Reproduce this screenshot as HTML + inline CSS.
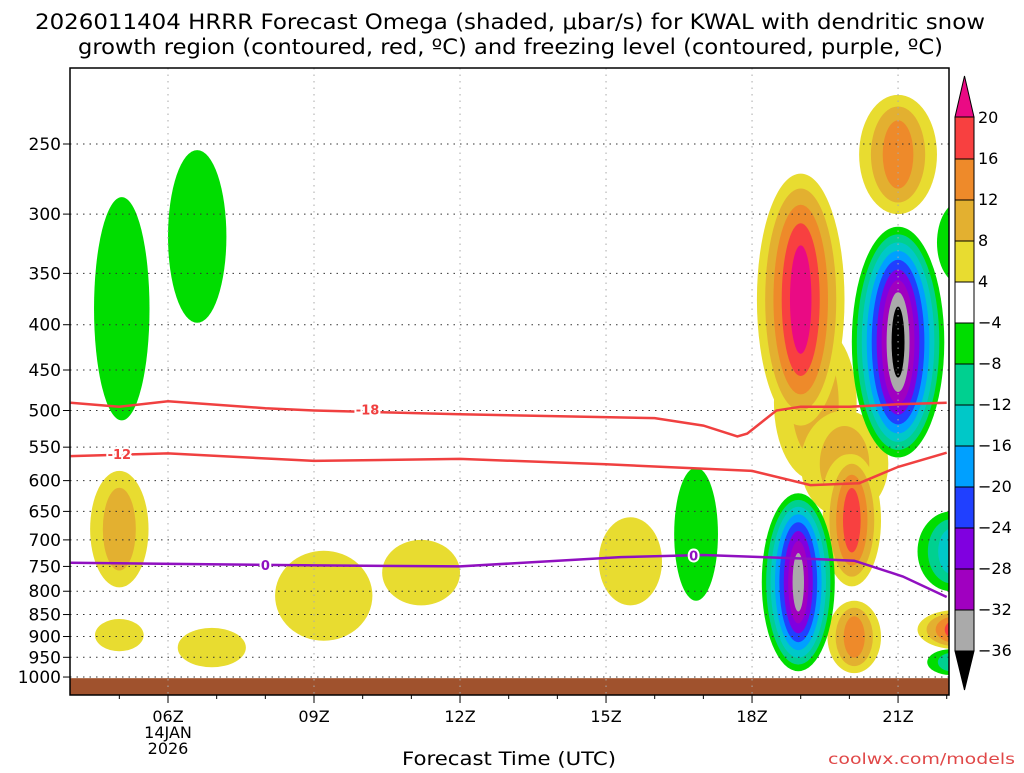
<!DOCTYPE html>
<html><head><meta charset="utf-8"><style>
body{margin:0;background:#fff;width:1024px;height:768px;overflow:hidden;font-family:"Liberation Sans",sans-serif}
svg text{font-family:"DejaVu Sans","Liberation Sans",sans-serif}
</style></head><body>
<svg id="c" width="1024" height="768">
<defs><clipPath id="pc"><rect x="70" y="68" width="879" height="627"/></clipPath></defs>
<text x="35" y="29" font-size="21" textLength="950" lengthAdjust="spacingAndGlyphs">2026011404 HRRR Forecast Omega (shaded, μbar/s) for KWAL with dendritic snow</text>
<text x="78" y="54" font-size="21" textLength="865" lengthAdjust="spacingAndGlyphs">growth region (contoured, red, ºC) and freezing level (contoured, purple, ºC)</text>
<g id="plot" clip-path="url(#pc)"></g>
<g id="axes"></g>
<text x="402" y="765" font-size="19" textLength="214" lengthAdjust="spacingAndGlyphs">Forecast Time (UTC)</text>
<text x="828" y="764" font-size="15" fill="#e04848" textLength="187" lengthAdjust="spacingAndGlyphs">coolwx.com/models</text>
</svg>
<script>
const pressureTicks=[250,300,350,400,450,500,550,600,650,700,750,800,850,900,950,1000];
const timeTicks=[6,9,12,15,18,21];
const timeLabels=["06Z","09Z","12Z","15Z","18Z","21Z"];
const levelValues=[20,16,12,8,4,-4,-8,-12,-16,-20,-24,-28,-32,-36];
const posColors=["#e8dc30","#e3b030","#ee8a2a","#f84040","#ea0a84"];
const negColors=["#00dd00","#00d090","#00c8c8","#00a0ff","#2040ff","#8000e0","#a000c0","#aaaaaa","#000000"];
// blobs: [centerHour, topPressure, bottomPressure, halfWidthHours, levels(+pos/-neg)]
const blobHours=[5.05,6.6,5.0,5.0,6.9,9.2,11.2,15.5,16.85,19.3,19.9,20.0,19.0,20.05,20.1,21.0,22.3,21.0,18.95,22.1,22.2,22.1];
const blobTop=[287,254,585,860,880,720,700,660,580,400,500,560,270,560,820,220,290,310,620,650,840,930];
const blobBottom=[513,398,792,935,975,910,830,830,820,600,660,700,520,790,990,300,360,565,985,800,930,995];
const blobHalfWidth=[0.57,0.6,0.6,0.5,0.7,1.0,0.8,0.65,0.45,0.85,0.9,0.55,0.9,0.6,0.55,0.8,0.5,0.95,0.75,0.7,0.8,0.5];
const blobLevels=[-1,-1,2,1,1,1,1,1,-1,2,2,2,5,4,3,3,-1,-9,-8,-3,4,-2];
const lineHours=[4,5,6,8,9,12,16,17,17.7,17.9,18.5,19,20,21,22];
const lineM18=[490,495,488,497,500,505,510,520,535,531,500,495,495,492,490];
const lineM12Hours=[4,6,9,12,15,18,19.2,20.2,21,22];
const lineM12=[563,559,570,567,575,585,607,604,579,558];
const line0Hours=[4,9,12,15.3,17,19.1,20.1,21.1,22];
const line0=[743,748,750,732,728,735,739,770,812];
const NS="http://www.w3.org/2000/svg";
const X=h=>168+(h-6)*48.67;
const Y=p=>144+384.5*Math.log(p/250);
function mk(tag,attrs,parent){const e=document.createElementNS(NS,tag);for(const k in attrs)e.setAttribute(k,attrs[k]);parent.appendChild(e);return e;}
const plot=document.getElementById('plot'),axes=document.getElementById('axes'),svg=document.getElementById('c');
blobHours.forEach((h,i)=>{
  const n=Math.abs(blobLevels[i]),cols=blobLevels[i]>0?posColors:negColors;
  const g=mk('g',{},plot);
  
  
  const cx=X(h),yt=Y(blobTop[i]),yb=Y(blobBottom[i]),cy=(yt+yb)/2,ry=(yb-yt)/2,rx=blobHalfWidth[i]*48.67;
  for(let k=0;k<n;k++){const f=1-k/(n+0.3);
    const e=mk('ellipse',{cx:cx,cy:cy,rx:rx*f,ry:ry*Math.pow(f,0.6),fill:cols[k]},g);
    
    }
});
const gr=mk('rect',{x:70,y:Y(1003),width:879,height:30,fill:'#a0522d'},plot);


pressureTicks.forEach(p=>{const l=mk('line',{x1:70,x2:949,y1:Y(p),y2:Y(p),stroke:'#333','stroke-dasharray':'1.5 5'},plot);
  
  
  const t=mk('text',{x:61,y:Y(p)+6,'font-size':17,'text-anchor':'end'},axes);t.textContent=p;
  
  
  mk('line',{x1:63,x2:70,y1:Y(p),y2:Y(p),stroke:'#000'},axes);});
for(let h=5;h<=22;h++){mk('line',{x1:X(h),x2:X(h),y1:695,y2:h%3==0?703:699,stroke:'#000'},axes);}
timeTicks.forEach((h,i)=>{const l=mk('line',{x1:X(h),x2:X(h),y1:68,y2:695,stroke:'#aaa','stroke-dasharray':'1.5 5'},plot);
  
  
  const t=mk('text',{x:X(h),y:722,'font-size':16,'text-anchor':'middle'},axes);t.textContent=timeLabels[i];
  
  });
[["14JAN",738],["2026",754]].forEach(a=>{const t=mk('text',{x:X(6),y:a[1],'font-size':16,'text-anchor':'middle'},axes);t.textContent=a[0];
  
  });
function drawLine(hs,ps,color,name,labels){
  const d=hs.map((h,i)=>(i?'L':'M')+X(h).toFixed(1)+','+Y(ps[i]).toFixed(1)).join('');
  const l=mk('path',{d:d,fill:'none',stroke:color,'stroke-width':2.5},plot);
  
  
  labels.forEach(([h,p,txt])=>{
    const t=mk('text',{x:X(h),y:Y(p)+5,'font-size':13,'font-weight':'bold','text-anchor':'middle',fill:color,stroke:'#fff','stroke-width':4,'paint-order':'stroke'},plot);t.textContent=txt;
    
    });
}
drawLine(lineHours,lineM18,'#f04040','contour-minus-18',[[10.1,499,'-18']]);
drawLine(lineM12Hours,lineM12,'#f04040','contour-minus-12',[[5.0,560,'-12']]);
drawLine(line0Hours,line0,'#9010c0','freezing-level',[[8.0,747,'0'],[16.8,729,'0']]);
const fr=mk('rect',{x:70,y:68,width:879,height:627,fill:'none',stroke:'#000','stroke-width':1.5},axes);


const cb=mk('g',{},svg);


const segs=[[117,159,posColors[3]],[159,200,posColors[2]],[200,241,posColors[1]],[241,282,posColors[0]],[282,323,'#fff']];
for(let k=0;k<8;k++)segs.push([323+41*k,364+41*k,negColors[k]]);
segs.forEach(s=>mk('rect',{x:955,y:s[0],width:19,height:s[1]-s[0],fill:s[2],stroke:'#000','stroke-width':1},cb));
mk('polygon',{points:'955,117 974,117 964.5,76',fill:posColors[4],stroke:'#000'},cb);
mk('polygon',{points:'955,651 974,651 964.5,690',fill:'#000',stroke:'#000'},cb);
levelValues.forEach((v,i)=>{const t=mk('text',{x:978,y:117+41*i+6,'font-size':16},cb);t.textContent=v<0?'−'+(-v):v;
  
  });
</script>
</body></html>
